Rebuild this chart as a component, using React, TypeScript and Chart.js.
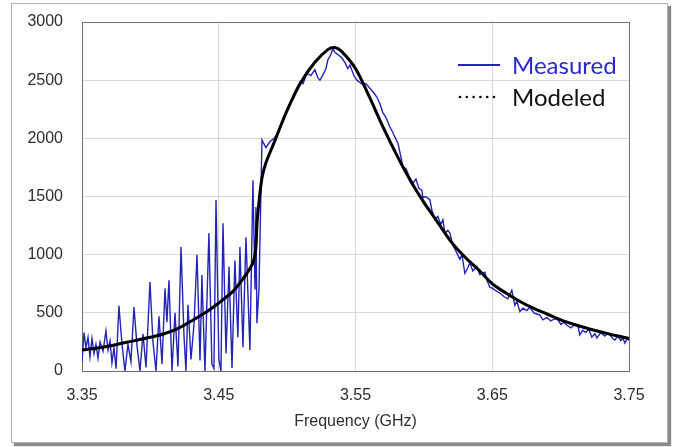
import React, { useEffect, useRef } from 'react';
import { Chart, registerables } from 'chart.js';

Chart.register(...registerables);

// ---------- data ----------
const xTickValues = [3.35, 3.45, 3.55, 3.65, 3.75];
const yTickValues = [0, 500, 1000, 1500, 2000, 2500, 3000];
const xAxisTitle = 'Frequency (GHz)';
const seriesNames = ['Measured', 'Modeled'];

const measuredFreq = [
  3.3500, 3.3515, 3.3529, 3.3544, 3.3558, 3.3573, 3.3588, 3.3602, 3.3617, 3.3632,
  3.3654, 3.3675, 3.3690, 3.3705, 3.3719, 3.3734, 3.3749, 3.3770, 3.3792, 3.3814,
  3.3836, 3.3858, 3.3880, 3.3902, 3.3924, 3.3946, 3.3968, 3.3997, 3.4019, 3.4041,
  3.4063, 3.4085, 3.4107, 3.4121, 3.4136, 3.4158, 3.4180, 3.4202, 3.4224, 3.4246,
  3.4260, 3.4275, 3.4297, 3.4319, 3.4341, 3.4363, 3.4377, 3.4399, 3.4428, 3.4450,
  3.4465, 3.4480, 3.4501, 3.4516, 3.4531, 3.4553, 3.4575, 3.4597, 3.4618, 3.4640,
  3.4655, 3.4677, 3.4699, 3.4728, 3.4750, 3.4765, 3.4772, 3.4779, 3.4794, 3.4816,
  3.4845, 3.4874, 3.4904, 3.4933, 3.4969, 3.5020, 3.5057, 3.5094, 3.5116, 3.5145,
  3.5174, 3.5203, 3.5225, 3.5240, 3.5262, 3.5284, 3.5298, 3.5320, 3.5335, 3.5349,
  3.5371, 3.5401, 3.5423, 3.5444, 3.5459, 3.5488, 3.5510, 3.5532, 3.5554, 3.5576,
  3.5605, 3.5627, 3.5656, 3.5678, 3.5700, 3.5722, 3.5751, 3.5773, 3.5788, 3.5810,
  3.5825, 3.5847, 3.5868, 3.5890, 3.5920, 3.5942, 3.5963, 3.5985, 3.5993, 3.6015,
  3.6044, 3.6059, 3.6080, 3.6102, 3.6124, 3.6139, 3.6154, 3.6175, 3.6190, 3.6212,
  3.6241, 3.6263, 3.6278, 3.6300, 3.6314, 3.6336, 3.6358, 3.6387, 3.6409, 3.6446,
  3.6461, 3.6482, 3.6504, 3.6526, 3.6556, 3.6585, 3.6614, 3.6643, 3.6665, 3.6680,
  3.6702, 3.6724, 3.6753, 3.6775, 3.6804, 3.6826, 3.6848, 3.6870, 3.6899, 3.6928,
  3.6958, 3.6980, 3.7002, 3.7023, 3.7045, 3.7075, 3.7104, 3.7126, 3.7140, 3.7162,
  3.7184, 3.7206, 3.7228, 3.7250, 3.7265, 3.7294, 3.7323, 3.7345, 3.7360, 3.7382,
  3.7396, 3.7418, 3.7440, 3.7455, 3.7469, 3.7491, 3.7500,
];

const measuredVal = [
  80, 330, 200, 290, 120, 280, 150, 230, 110, 250,
  170, 345, 180, 260, 70, 200, 20, 560, 240, 0,
  230, 80, 550, 220, 0, 320, 30, 765, 250, 0,
  470, 60, 710, 420, 780, 0, 500, 40, 1065, 300,
  0, 570, 100, 400, 1000, 90, 825, 0, 1185, 60,
  20, 1470, 100, 0, 1270, 150, 895, 25, 950, 290,
  1065, 205, 1150, 180, 1640, 700, 1410, 410, 695, 1985,
  1920, 1970, 2000, 2045, 2160, 2300, 2400, 2485, 2470, 2560,
  2540, 2590, 2520, 2500, 2545, 2600, 2675, 2720, 2770, 2740,
  2720, 2690, 2650, 2600, 2630, 2540, 2500, 2480, 2460, 2470,
  2430, 2400, 2355, 2300, 2220, 2180, 2100, 2050, 2010, 1960,
  1880, 1755, 1740, 1680, 1615, 1650, 1570, 1555, 1490, 1500,
  1470, 1380, 1300, 1330, 1260, 1300, 1185, 1210, 1185, 1080,
  1015, 960, 1000, 840, 870, 930, 860, 895, 830, 850,
  780, 720, 710, 690, 670, 640, 620, 695, 565, 600,
  510, 540, 520, 550, 500, 490, 480, 440, 460, 430,
  450, 440, 400, 420, 395, 370, 400, 395, 310, 350,
  330, 360, 290, 320, 285, 330, 300, 320, 310, 280,
  265, 300, 260, 285, 240, 285, 260,
];

const modelFreq = [
  3.35, 3.36, 3.37, 3.38, 3.39, 3.40, 3.41, 3.42, 3.43, 3.44,
  3.45, 3.46, 3.465, 3.47, 3.475, 3.477, 3.478, 3.4794, 3.4816, 3.4845,
  3.49, 3.50, 3.51, 3.52, 3.53, 3.535, 3.54, 3.55, 3.56, 3.57,
  3.58, 3.59, 3.60, 3.61, 3.62, 3.63, 3.64, 3.65, 3.66, 3.67,
  3.68, 3.69, 3.70, 3.71, 3.72, 3.73, 3.74, 3.75,
];

const modelVal = [
  180, 195, 215, 240, 265, 290, 320, 365, 430, 500,
  585, 680, 750, 830, 930, 1040, 1270, 1450, 1660, 1790,
  1950, 2240, 2480, 2650, 2765, 2780, 2745, 2600, 2360, 2100,
  1860, 1640, 1450, 1280, 1110, 980, 870, 750, 670, 600,
  540, 490, 440, 400, 365, 335, 305, 280,
];

// ---------- styles ----------
const BLUE = '#2323b4';
const LEGEND_BLUE = '#2a2ac8';
const TICK_COLOR = '#2e2e2e';
const GRID_COLOR = '#d9d9d9';
const FRAME_COLOR = '#6e6e6e';
const TICK_FONT = { family: '"Liberation Sans", Arial, sans-serif', size: 16 };

const framePlugin = {
  id: 'plotFrame',
  beforeDatasetsDraw(chart: any) {
    const { ctx, chartArea } = chart;
    ctx.save();
    ctx.strokeStyle = FRAME_COLOR;
    ctx.lineWidth = 1;
    ctx.strokeRect(
      Math.round(chartArea.left) + 0.5,
      Math.round(chartArea.top) + 0.5,
      Math.round(chartArea.right - chartArea.left),
      Math.round(chartArea.bottom - chartArea.top)
    );
    ctx.restore();
  },
};

const legendPlugin = {
  id: 'insideLegend',
  afterDraw(chart: any) {
    const { ctx, chartArea } = chart;
    const x0 = chartArea.right - 171;
    const y1 = chartArea.top + 43;
    const y2 = chartArea.top + 75;
    ctx.save();
    // Measured
    ctx.strokeStyle = BLUE;
    ctx.lineWidth = 2;
    ctx.beginPath();
    ctx.moveTo(x0, y1);
    ctx.lineTo(x0 + 42, y1);
    ctx.stroke();
    // Modeled (dotted)
    ctx.fillStyle = '#000';
    for (let i = 0; i < 6; i++) {
      ctx.beginPath();
      ctx.arc(x0 + 2 + i * 6.8, y2, 1.3, 0, Math.PI * 2);
      ctx.fill();
    }
    ctx.font = '24px Lato, "Open Sans", sans-serif';
    ctx.textBaseline = 'middle';
    ctx.textAlign = 'left';
    ctx.fillStyle = LEGEND_BLUE;
    ctx.fillText(seriesNames[0], x0 + 54, y1 + 1);
    ctx.fillStyle = '#111';
    ctx.fillText(seriesNames[1], x0 + 54, y2 + 1);
    ctx.restore();
  },
};

export default function App() {
  const canvasRef = useRef<HTMLCanvasElement | null>(null);

  useEffect(() => {
    const canvas = canvasRef.current;
    if (!canvas) return;
    const chart = new Chart(canvas, {
      type: 'line',
      data: {
        datasets: [
          {
            label: seriesNames[1],
            data: modelFreq.map((x, i) => ({ x, y: modelVal[i] })),
            borderColor: '#000000',
            borderWidth: 3,
            pointRadius: 0,
            tension: 0.3,
            fill: false,
          },
          {
            label: seriesNames[0],
            data: measuredFreq.map((x, i) => ({ x, y: measuredVal[i] })),
            borderColor: BLUE,
            borderWidth: 1.4,
            pointRadius: 0,
            tension: 0,
            fill: false,
          },
        ],
      },
      options: {
        responsive: false,
        maintainAspectRatio: false,
        animation: false,
        devicePixelRatio: 1,
        layout: { padding: { left: 0, top: 22, right: 52, bottom: 0 } },
        plugins: {
          legend: { display: false },
          tooltip: { enabled: false },
          title: { display: false },
        },
        scales: {
          x: {
            type: 'linear',
            min: 3.35,
            max: 3.75,
            afterBuildTicks: (scale: any) => {
              scale.ticks = xTickValues.map((v) => ({ value: v }));
            },
            afterFit: (scale: any) => {
              scale.height = 76;
            },
            ticks: {
              callback: (v: any) => Number(v).toFixed(2),
              color: TICK_COLOR,
              font: TICK_FONT,
              padding: 15,
              maxRotation: 0,
              autoSkip: false,
            },
            grid: {
              color: (c: any) =>
                c.tick && (c.tick.value === 3.35 || c.tick.value === 3.75) ? 'rgba(0,0,0,0)' : GRID_COLOR,
              lineWidth: 1,
              drawTicks: false,
            },
            border: { display: false },
            title: {
              display: true,
              text: xAxisTitle,
              color: TICK_COLOR,
              font: TICK_FONT,
              padding: { top: 0, bottom: 16 },
            },
          },
          y: {
            type: 'linear',
            min: 0,
            max: 3000,
            afterBuildTicks: (scale: any) => {
              scale.ticks = yTickValues.map((v) => ({ value: v }));
            },
            afterFit: (scale: any) => {
              scale.width = 82;
            },
            ticks: {
              callback: (v: any) => String(v),
              color: TICK_COLOR,
              font: TICK_FONT,
              padding: 0,
            },
            grid: {
              color: (c: any) =>
                c.tick && (c.tick.value === 0 || c.tick.value === 3000) ? 'rgba(0,0,0,0)' : GRID_COLOR,
              lineWidth: 1,
              drawTicks: true,
              tickLength: 19,
              tickColor: 'rgba(0,0,0,0)',
            },
            border: { display: false },
          },
        },
      },
      plugins: [framePlugin, legendPlugin],
    } as any);
    return () => chart.destroy();
  }, []);

  return (
    <div style={{ position: 'absolute', left: 0, top: 0, width: 681, height: 447, background: '#fff', overflow: 'hidden' }}>
      <div
        style={{
          position: 'absolute',
          left: 11,
          top: 3,
          width: 657,
          height: 440,
          boxSizing: 'border-box',
          border: '1px solid #b0b0b0',
          boxShadow: '3px 3px 1px #8a8a8a',
          background: '#fff',
        }}
      />
      <canvas
        ref={canvasRef}
        width={681}
        height={447}
        style={{ position: 'absolute', left: 0, top: 0, width: 681, height: 447 }}
      />
    </div>
  );
}
